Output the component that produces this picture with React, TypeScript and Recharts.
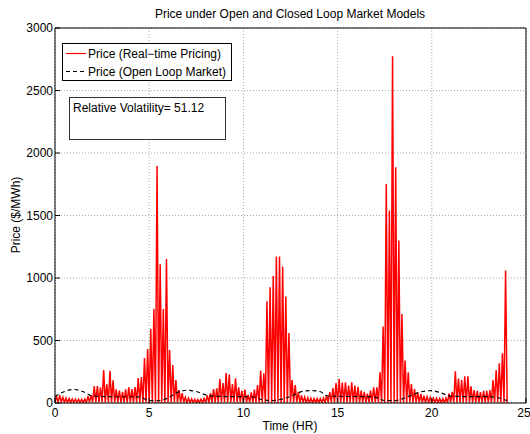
import { LineChart, Line, XAxis, YAxis, CartesianGrid, Legend } from "recharts";

// real-time pricing, 5-minute samples, one row per hour (trough, peak, trough, peak ...)
const rtpPrice = [
  6, 50, 5, 62, 5, 45, 4, 40, 4, 35, 3, 32,
  3, 30, 3, 30, 3, 30, 3, 32, 4, 55, 5, 65,
  6, 136, 5, 135, 5, 125, 5, 264, 5, 150, 5, 258,
  5, 181, 5, 110, 5, 100, 5, 90, 5, 110, 5, 125,
  5, 112, 5, 128, 5, 200, 5, 208, 4, 360, 4, 432,
  3, 592, 3, 752, 2, 1896, 2, 1110, 2, 752, 2, 1152,
  3, 424, 3, 304, 4, 184, 4, 104, 4, 80, 4, 45,
  3, 38, 3, 32, 3, 30, 3, 28, 3, 30, 3, 35,
  4, 60, 4, 78, 5, 112, 5, 118, 5, 192, 5, 160,
  5, 240, 5, 227, 5, 152, 5, 198, 5, 125, 5, 100,
  5, 107, 5, 64, 5, 85, 5, 107, 5, 144, 4, 259,
  4, 238, 3, 813, 2, 925, 2, 1016, 2, 1171, 2, 1171,
  2, 1091, 2, 851, 3, 560, 4, 184, 4, 144, 4, 90,
  3, 60, 3, 48, 3, 42, 3, 38, 3, 35, 3, 35,
  3, 35, 3, 40, 4, 60, 4, 88, 5, 120, 5, 160,
  5, 192, 5, 163, 5, 165, 5, 140, 5, 165, 5, 140,
  5, 130, 5, 100, 5, 90, 5, 75, 5, 99, 5, 125,
  5, 125, 4, 245, 3, 611, 2, 1752, 2, 1539, 2, 2773,
  2, 1885, 2, 1299, 2, 712, 3, 339, 3, 245, 4, 152,
  4, 112, 4, 85, 4, 72, 3, 59, 3, 51, 3, 45,
  3, 40, 3, 38, 3, 35, 3, 35, 3, 40, 4, 75,
  4, 90, 4, 253, 5, 195, 5, 184, 5, 213, 5, 213,
  5, 133, 5, 104, 5, 98, 5, 88, 5, 98, 5, 98,
  5, 104, 5, 184, 4, 264, 4, 317, 3, 397, 2, 1060,
  2,
];

// open loop market price, every half hour
const olmPrice = [
  51, 92, 108, 90, 56, 52, 50, 50, 50, 48, 20, 19,
  40, 85, 102, 92, 65, 54, 52, 51, 51, 48, 26, 19,
  30, 53, 87, 99, 95, 56, 53, 52, 52, 51, 45, 19,
  19, 37, 68, 92, 99, 80, 55, 52, 51, 51, 51, 42,
  19,
];

const xTicks = [0, 5, 10, 15, 20, 25];
const yTicks = [0, 500, 1000, 1500, 2000, 2500, 3000];

const rtpData = rtpPrice.map((p, i) => ({ t: i / 12, p }));
const olmData = olmPrice.map((p, i) => ({ t: i / 2, p }));

const font = '"Liberation Sans", Arial, Helvetica, sans-serif';
const tickStyle = { fill: "#000", fontSize: 12, fontFamily: font };

const LegendBox = () => (
  <svg width={170} height={38} style={{ display: "block" }}>
    <rect x={0.5} y={0.5} width={169} height={37} fill="#fff" stroke="#000" />
    <line x1={4} x2={24} y1={10.5} y2={10.5} stroke="#ff0000" strokeWidth={1.2} />
    <text x={26} y={15} fontSize={12} fontFamily={font} fill="#000">
      Price (Real−time Pricing)
    </text>
    <line x1={4} x2={24} y1={28.5} y2={28.5} stroke="#000" strokeWidth={1.2} strokeDasharray="4 3" />
    <text x={26} y={33} fontSize={12} fontFamily={font} fill="#000">
      Price (Open Loop Market)
    </text>
  </svg>
);

export default function App() {
  return (
    <div
      style={{
        position: "absolute",
        left: 0,
        top: 0,
        width: 530,
        height: 434,
        background: "#fff",
        fontFamily: font,
      }}
    >
      <LineChart width={530} height={434} margin={{ top: 27, right: 3, bottom: 0, left: 0 }}>
        <CartesianGrid stroke="#a8a8a8" strokeDasharray="1 2" />
        <XAxis
          dataKey="t"
          type="number"
          domain={[0, 25]}
          ticks={xTicks}
          allowDataOverflow
          height={31}
          tickSize={-5}
          tickMargin={10}
          stroke="#000"
          tick={tickStyle}
        />
        <XAxis
          xAxisId="top"
          orientation="top"
          dataKey="t"
          type="number"
          domain={[0, 25]}
          ticks={xTicks}
          allowDataOverflow
          height={1}
          tickSize={-5}
          tick={false}
          stroke="#000"
        />
        <YAxis
          type="number"
          domain={[0, 3000]}
          ticks={yTicks}
          allowDataOverflow
          width={55}
          tickSize={-5}
          tickMargin={7}
          stroke="#000"
          tick={tickStyle}
        />
        <YAxis
          yAxisId="right"
          orientation="right"
          type="number"
          domain={[0, 3000]}
          ticks={yTicks}
          allowDataOverflow
          width={1}
          tickSize={-5}
          tick={false}
          stroke="#000"
        />
        <Legend
          layout="vertical"
          align="center"
          verticalAlign="middle"
          wrapperStyle={{ left: 62, top: 43, width: 170, height: 38 }}
          content={() => <LegendBox />}
        />
        <Line
          data={rtpData}
          dataKey="p"
          type="linear"
          stroke="#ff0000"
          strokeWidth={1.5}
          dot={false}
          isAnimationActive={false}
        />
        <Line
          data={olmData}
          dataKey="p"
          type="monotone"
          stroke="#000"
          strokeWidth={1.2}
          strokeDasharray="4 3"
          dot={false}
          isAnimationActive={false}
        />
      </LineChart>
      <svg
        width={530}
        height={434}
        style={{ position: "absolute", left: 0, top: 0, pointerEvents: "none" }}
      >
        <text x={290} y={17.5} textAnchor="middle" fontSize={12} fontFamily={font} fill="#000">
          Price under Open and Closed Loop Market Models
        </text>
        <text x={290} y={430} textAnchor="middle" fontSize={12} fontFamily={font} fill="#000">
          Time (HR)
        </text>
        <text
          x={0}
          y={0}
          transform="translate(20,215) rotate(-90)"
          textAnchor="middle"
          fontSize={12}
          fontFamily={font}
          fill="#000"
        >
          Price ($/MWh)
        </text>
        <rect x={69.5} y={97.5} width={156} height={42} fill="#fff" stroke="#333" />
        <text x={73} y={112} fontSize={12} fontFamily={font} fill="#000">
          Relative Volatility= 51.12
        </text>
      </svg>
    </div>
  );
}
